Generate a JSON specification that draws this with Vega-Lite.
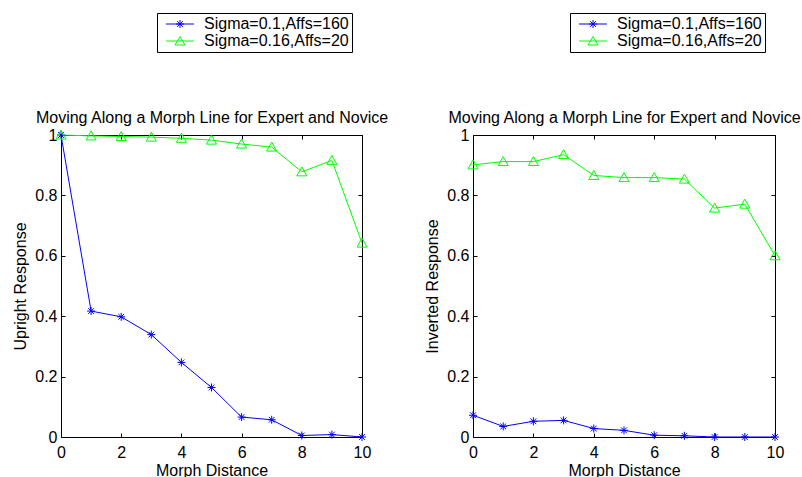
{
  "$schema": "https://vega.github.io/schema/vega-lite/v6.json",
  "padding": {"left": 12, "top": 12, "right": 0, "bottom": 0},
  "background": "white",
  "datasets": {
    "upright": [
      {"series": "Sigma=0.1,Affs=160", "d": 0, "r": 1.0},
      {"series": "Sigma=0.1,Affs=160", "d": 1, "r": 0.417},
      {"series": "Sigma=0.1,Affs=160", "d": 2, "r": 0.398},
      {"series": "Sigma=0.1,Affs=160", "d": 3, "r": 0.339},
      {"series": "Sigma=0.1,Affs=160", "d": 4, "r": 0.247},
      {"series": "Sigma=0.1,Affs=160", "d": 5, "r": 0.164},
      {"series": "Sigma=0.1,Affs=160", "d": 6, "r": 0.066},
      {"series": "Sigma=0.1,Affs=160", "d": 7, "r": 0.057},
      {"series": "Sigma=0.1,Affs=160", "d": 8, "r": 0.005},
      {"series": "Sigma=0.1,Affs=160", "d": 9, "r": 0.008},
      {"series": "Sigma=0.1,Affs=160", "d": 10, "r": 0.0},
      {"series": "Sigma=0.16,Affs=20", "d": 0, "r": 1.0},
      {"series": "Sigma=0.16,Affs=20", "d": 1, "r": 0.997},
      {"series": "Sigma=0.16,Affs=20", "d": 2, "r": 0.995},
      {"series": "Sigma=0.16,Affs=20", "d": 3, "r": 0.993},
      {"series": "Sigma=0.16,Affs=20", "d": 4, "r": 0.989},
      {"series": "Sigma=0.16,Affs=20", "d": 5, "r": 0.983},
      {"series": "Sigma=0.16,Affs=20", "d": 6, "r": 0.970},
      {"series": "Sigma=0.16,Affs=20", "d": 7, "r": 0.960},
      {"series": "Sigma=0.16,Affs=20", "d": 8, "r": 0.878},
      {"series": "Sigma=0.16,Affs=20", "d": 9, "r": 0.916},
      {"series": "Sigma=0.16,Affs=20", "d": 10, "r": 0.642}
    ],
    "inverted": [
      {"series": "Sigma=0.1,Affs=160", "d": 0, "r": 0.072},
      {"series": "Sigma=0.1,Affs=160", "d": 1, "r": 0.035},
      {"series": "Sigma=0.1,Affs=160", "d": 2, "r": 0.052},
      {"series": "Sigma=0.1,Affs=160", "d": 3, "r": 0.055},
      {"series": "Sigma=0.1,Affs=160", "d": 4, "r": 0.028},
      {"series": "Sigma=0.1,Affs=160", "d": 5, "r": 0.022},
      {"series": "Sigma=0.1,Affs=160", "d": 6, "r": 0.006},
      {"series": "Sigma=0.1,Affs=160", "d": 7, "r": 0.004},
      {"series": "Sigma=0.1,Affs=160", "d": 8, "r": 0.0},
      {"series": "Sigma=0.1,Affs=160", "d": 9, "r": 0.0},
      {"series": "Sigma=0.1,Affs=160", "d": 10, "r": 0.0},
      {"series": "Sigma=0.16,Affs=20", "d": 0, "r": 0.901},
      {"series": "Sigma=0.16,Affs=20", "d": 1, "r": 0.912},
      {"series": "Sigma=0.16,Affs=20", "d": 2, "r": 0.912},
      {"series": "Sigma=0.16,Affs=20", "d": 3, "r": 0.935},
      {"series": "Sigma=0.16,Affs=20", "d": 4, "r": 0.866},
      {"series": "Sigma=0.16,Affs=20", "d": 5, "r": 0.859},
      {"series": "Sigma=0.16,Affs=20", "d": 6, "r": 0.859},
      {"series": "Sigma=0.16,Affs=20", "d": 7, "r": 0.854},
      {"series": "Sigma=0.16,Affs=20", "d": 8, "r": 0.758},
      {"series": "Sigma=0.16,Affs=20", "d": 9, "r": 0.771},
      {"series": "Sigma=0.16,Affs=20", "d": 10, "r": 0.600}
    ]
  },
  "spacing": 35,
  "resolve": {"scale": {"color": "independent"}, "legend": {"color": "independent"}},
  "config": {
    "font": "Liberation Sans",
    "view": {"stroke": null},
    "axis": {
      "labelFont": "Liberation Sans", "labelFontSize": 16, "labelColor": "black",
      "titleFont": "Liberation Sans", "titleFontSize": 16, "titleFontWeight": "normal", "titleColor": "black",
      "domainColor": "black", "domainWidth": 1, "tickColor": "black", "tickWidth": 1, "tickSize": -4,
      "grid": false, "labelFlush": false, "labelOverlap": false
    },
    "axisX": {"labelPadding": 11},
    "axisY": {"labelPadding": 8},
    "legend": {
      "title": null, "strokeColor": "black", "fillColor": "white", "padding": 3, "rowPadding": 1,
      "symbolSize": 144, "symbolStrokeWidth": 1, "symbolOffset": 12, "labelOffset": 16,
      "labelFontSize": 16, "labelFont": "Liberation Sans", "labelColor": "black"
    }
  },
  "hconcat": [
    {
      "width": 301, "height": 302,
      "data": {"name": "upright"},
      "resolve": {"axis": {"x": "independent", "y": "independent"}},
      "layer": [
        {
          "mark": {"type": "line", "strokeWidth": 1},
          "encoding": {
            "x": {"field": "d", "type": "quantitative", "scale": {"domain": [0, 10], "nice": false}, "axis": {"orient": "bottom", "title": "Morph Distance", "titlePadding": 2, "values": [0, 2, 4, 6, 8, 10]}},
            "y": {"field": "r", "type": "quantitative", "scale": {"domain": [0, 1], "nice": false}, "axis": {"orient": "left", "title": "Upright Response", "titlePadding": 6, "values": [0, 0.2, 0.4, 0.6, 0.8, 1], "format": "~g"}},
            "color": {"field": "series", "type": "nominal", "scale": {"domain": ["Sigma=0.1,Affs=160", "Sigma=0.16,Affs=20"], "range": ["#0000ff", "#00ff00"]},
              "legend": {"orient": "none", "legendX": 96, "legendY": -122,
                "encode": {"symbols": {"update": {"fill": {"value": "transparent"}, "shape": {"signal": "datum.value === 'Sigma=0.1,Affs=160' ? 'M-2.33,0H2.33M-0.67,0H0.67M0,-0.67V0.67M-0.47,-0.47L0.47,0.47M-0.47,0.47L0.47,-0.47' : 'M-2.33,0H2.33M0,-0.75L0.83,0.67L-0.83,0.67Z'"}}}}}}
          }
        },
        {
          "transform": [{"filter": "datum.series === 'Sigma=0.1,Affs=160'"}],
          "mark": {"type": "point", "filled": false, "size": 100, "strokeWidth": 1, "opacity": 1, "shape": "M-0.8,0H0.8M0,-0.8V0.8M-0.57,-0.57L0.57,0.57M-0.57,0.57L0.57,-0.57"},
          "encoding": {
            "x": {"field": "d", "type": "quantitative", "scale": {"domain": [0, 10], "nice": false}, "axis": {"orient": "top", "title": "Moving Along a Morph Line for Expert and Novice", "titlePadding": 9, "labels": false, "values": [0, 2, 4, 6, 8, 10]}},
            "y": {"field": "r", "type": "quantitative", "scale": {"domain": [0, 1], "nice": false}, "axis": {"orient": "right", "title": null, "labels": false, "values": [0, 0.2, 0.4, 0.6, 0.8, 1]}},
            "color": {"field": "series", "type": "nominal", "legend": null}
          }
        },
        {
          "transform": [{"filter": "datum.series === 'Sigma=0.16,Affs=20'"}],
          "mark": {"type": "point", "filled": false, "size": 100, "strokeWidth": 1, "opacity": 1, "shape": "M0,-1L1,0.8L-1,0.8Z"},
          "encoding": {
            "x": {"field": "d", "type": "quantitative", "axis": null},
            "y": {"field": "r", "type": "quantitative", "axis": null},
            "color": {"field": "series", "type": "nominal", "legend": null}
          }
        }
      ]
    },
    {
      "width": 302, "height": 302,
      "data": {"name": "inverted"},
      "resolve": {"axis": {"x": "independent", "y": "independent"}},
      "layer": [
        {
          "mark": {"type": "line", "strokeWidth": 1},
          "encoding": {
            "x": {"field": "d", "type": "quantitative", "scale": {"domain": [0, 10], "nice": false}, "axis": {"orient": "bottom", "title": "Morph Distance", "titlePadding": 2, "values": [0, 2, 4, 6, 8, 10]}},
            "y": {"field": "r", "type": "quantitative", "scale": {"domain": [0, 1], "nice": false}, "axis": {"orient": "left", "title": "Inverted Response", "titlePadding": 6, "values": [0, 0.2, 0.4, 0.6, 0.8, 1], "format": "~g"}},
            "color": {"field": "series", "type": "nominal", "scale": {"domain": ["Sigma=0.1,Affs=160", "Sigma=0.16,Affs=20"], "range": ["#0000ff", "#00ff00"]},
              "legend": {"orient": "none", "legendX": 97, "legendY": -122,
                "encode": {"symbols": {"update": {"fill": {"value": "transparent"}, "shape": {"signal": "datum.value === 'Sigma=0.1,Affs=160' ? 'M-2.33,0H2.33M-0.67,0H0.67M0,-0.67V0.67M-0.47,-0.47L0.47,0.47M-0.47,0.47L0.47,-0.47' : 'M-2.33,0H2.33M0,-0.75L0.83,0.67L-0.83,0.67Z'"}}}}}}
          }
        },
        {
          "transform": [{"filter": "datum.series === 'Sigma=0.1,Affs=160'"}],
          "mark": {"type": "point", "filled": false, "size": 100, "strokeWidth": 1, "opacity": 1, "shape": "M-0.8,0H0.8M0,-0.8V0.8M-0.57,-0.57L0.57,0.57M-0.57,0.57L0.57,-0.57"},
          "encoding": {
            "x": {"field": "d", "type": "quantitative", "scale": {"domain": [0, 10], "nice": false}, "axis": {"orient": "top", "title": "Moving Along a Morph Line for Expert and Novice", "titlePadding": 9, "labels": false, "values": [0, 2, 4, 6, 8, 10]}},
            "y": {"field": "r", "type": "quantitative", "scale": {"domain": [0, 1], "nice": false}, "axis": {"orient": "right", "title": null, "labels": false, "values": [0, 0.2, 0.4, 0.6, 0.8, 1]}},
            "color": {"field": "series", "type": "nominal", "legend": null}
          }
        },
        {
          "transform": [{"filter": "datum.series === 'Sigma=0.16,Affs=20'"}],
          "mark": {"type": "point", "filled": false, "size": 100, "strokeWidth": 1, "opacity": 1, "shape": "M0,-1L1,0.8L-1,0.8Z"},
          "encoding": {
            "x": {"field": "d", "type": "quantitative", "axis": null},
            "y": {"field": "r", "type": "quantitative", "axis": null},
            "color": {"field": "series", "type": "nominal", "legend": null}
          }
        }
      ]
    }
  ]
}
